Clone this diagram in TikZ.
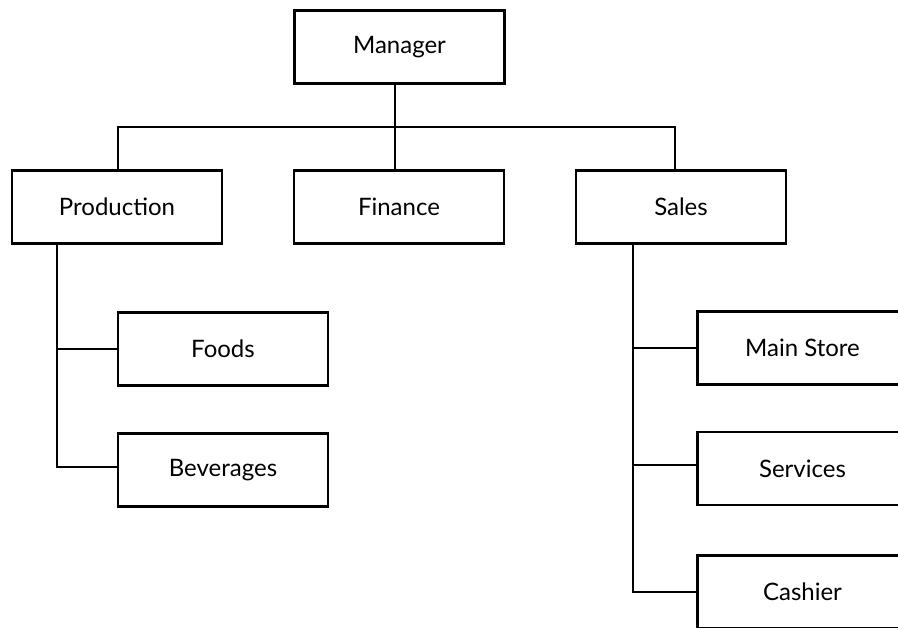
\documentclass[tikz,border=0pt]{standalone}
\usepackage{fontspec}
\setmainfont{Lato}
\begin{document}
\begin{tikzpicture}[x=1pt,y=-1pt,
  box/.style={draw=black,line width=2.8pt,minimum width=210pt,minimum height=73pt,inner sep=0pt,outer sep=0pt,fill=white,font=\fontsize{24}{28}\selectfont},
  conn/.style={draw=black,line width=1.3pt}]
\useasboundingbox (0,0) rectangle (898,628);
\clip (0,0) rectangle (898,628);
\node[box] (mgr) at (399.5,47) {Manager};
\node[box] (prod) at (117,207) {Production};
\node[box] (fin) at (399,207) {Finance};
\node[box] (sales) at (681,207) {Sales};
\node[box] (foods) at (223,349) {Foods};
\node[box] (bev) at (223,470) {Beverages};
\node[box] (main) at (802.5,348) {Main Store};
\node[box] (serv) at (802.5,468.5) {Services};
\node[box] (cash) at (802.5,592) {Cashier};
\coordinate (bus) at (395,127);
\coordinate (pt) at (57,0);
\coordinate (st) at (633,0);
\draw[conn] ([xshift=-4.5pt]mgr.south) -- ([xshift=-4pt]fin.north);
\draw[conn] ([xshift=1pt]prod.north) |- (bus) -| ([xshift=-6pt]sales.north);
\draw[conn] (prod.south -| pt) |- (foods.west);
\draw[conn] (prod.south -| pt) |- ([yshift=3pt]bev.west);
\draw[conn] (sales.south -| st) |- (cash.west);
\draw[conn] (sales.south -| st) |- (main.west);
\draw[conn] (sales.south -| st) |- ([yshift=3.5pt]serv.west);
\end{tikzpicture}
\end{document}
